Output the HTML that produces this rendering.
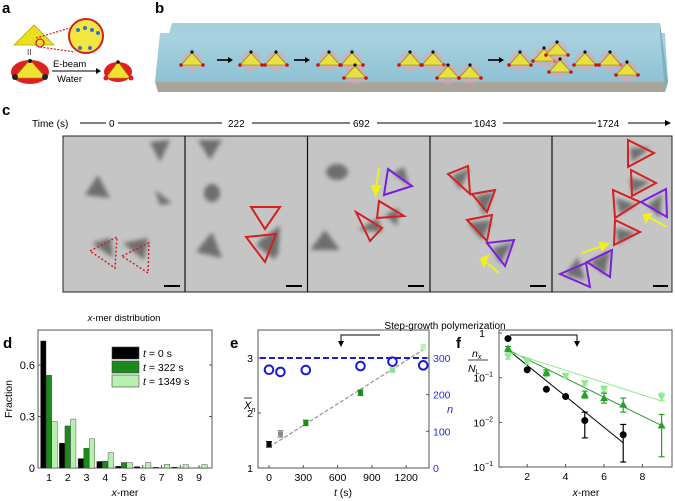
<!DOCTYPE html>
<html><head><meta charset="utf-8"><style>
html,body{margin:0;padding:0;background:#fff;}
svg{display:block;font-family:"Liberation Sans",sans-serif;}
</style></head><body>
<svg id="fig" width="675" height="501" viewBox="0 0 675 501" xmlns="http://www.w3.org/2000/svg">
<defs>
<linearGradient id="water" x1="0" y1="0" x2="0" y2="1"><stop offset="0" stop-color="#a9d3e0"/><stop offset="1" stop-color="#8ec2d4"/></linearGradient>
<filter id="blur" x="-30%" y="-30%" width="160%" height="160%"><feGaussianBlur stdDeviation="2.2"/></filter>
</defs>

<g font-weight="bold" font-size="15" fill="#000">
<text x="2" y="13">a</text>
<text x="155" y="13">b</text>
<text x="2" y="115">c</text>
<text x="3" y="348">d</text>
<text x="230" y="348">e</text>
<text x="456" y="348">f</text>
</g>

<g>
<polygon points="14,45 34,25 54,45" fill="#e8e020" stroke="#b8a800" stroke-width="0.8"/>
<line x1="36" y1="38" x2="70" y2="28" stroke="#d42020" stroke-width="1.2" stroke-dasharray="2,1.5"/>
<line x1="40" y1="47" x2="75" y2="52" stroke="#d42020" stroke-width="1.2" stroke-dasharray="2,1.5"/>
<circle cx="40" cy="43" r="4" fill="none" stroke="#d42020" stroke-width="1.3"/>
<circle cx="86" cy="36" r="17" fill="#f2e640" stroke="#d42020" stroke-width="2"/>
<g fill="#3a70c8"><circle cx="78" cy="30" r="2"/><circle cx="85" cy="28" r="2"/><circle cx="92" cy="30" r="2"/><circle cx="98" cy="33" r="2"/><circle cx="80" cy="48" r="2"/><circle cx="90" cy="48" r="2"/></g>
<text x="27" y="55" font-size="8" fill="#333">II</text>
<ellipse cx="30" cy="72" rx="19" ry="12" fill="#e02020"/>
<polygon points="14,78 30,60 46,78" fill="#f0e030" stroke="#a09000" stroke-width="0.6"/>
<circle cx="30" cy="61" r="2" fill="#111"/><circle cx="15" cy="77" r="3" fill="#222"/><circle cx="45" cy="77" r="3" fill="#222"/>
<text x="53" y="67" font-size="9.5">E-beam</text>
<text x="57" y="82" font-size="9.5">Water</text>
<line x1="52" y1="71" x2="96" y2="71" stroke="#000" stroke-width="1"/>
<polygon points="96,68 101,71 96,74" fill="#000"/>
<ellipse cx="118" cy="72" rx="14" ry="10" fill="#e02020"/>
<polygon points="106,78 118,62 130,78" fill="#f0e030" stroke="#a09000" stroke-width="0.6"/>
<circle cx="118" cy="62" r="1.8" fill="#111"/><circle cx="106" cy="78" r="2.5" fill="#e02020"/><circle cx="131" cy="78" r="2.5" fill="#e02020"/>
</g>

<g>
<polygon points="172,23 660,23 668,82 155,82" fill="#9ecadb" opacity="0.9"/>
<polygon points="160,33 665,33 668,82 155,82" fill="url(#water)"/>
<polygon points="155,82 668,82 665,92 158,92" fill="#a9a59a"/>
<polygon points="660,23 668,82 665,92 660,33" fill="#7fb0c0"/>
</g>
<g id="b-monomers"></g>

<g font-size="10">
<text x="32" y="127">Time (s)</text>
<line x1="80" y1="123" x2="106" y2="123" stroke="#000"/>
<text x="109" y="127">0</text>
<line x1="118" y1="123" x2="222" y2="123" stroke="#000"/>
<text x="228" y="127">222</text>
<line x1="252" y1="123" x2="350" y2="123" stroke="#000"/>
<text x="353" y="127">692</text>
<line x1="377" y1="123" x2="472" y2="123" stroke="#000"/>
<text x="474" y="127">1043</text>
<line x1="503" y1="123" x2="596" y2="123" stroke="#000"/>
<text x="597" y="127">1724</text>
<line x1="628" y1="123" x2="665" y2="123" stroke="#000"/>
<polygon points="665,120 671,123 665,126" fill="#000"/>
</g>
<g id="c-panels">
<rect x="63" y="136" width="609" height="156" fill="#c5c5c5" stroke="#222" stroke-width="1"/>
<g fill="#6e6e6e" filter="url(#blur)">
<polygon points="85,195 98,175 110,198"/><polygon points="150,142 170,140 160,162"/><polygon points="155,190 172,203 160,205"/>
<polygon points="92,243 111,238 113,258"/><polygon points="123,243 148,238 144,260"/>
<polygon points="198,140 222,140 210,160"/><ellipse cx="212" cy="193" rx="8" ry="9"/><polygon points="196,252 212,232 222,258"/>
<polygon points="256,245 280,225 275,260"/><polygon points="259,240 280,230 278,256"/>
<ellipse cx="337" cy="172" rx="11" ry="8"/><polygon points="310,250 325,230 340,250"/>
<polygon points="358,230 378,218 382,232"/><polygon points="385,215 399,208 397,226"/><polygon points="393,173 404,167 409,186"/>
<polygon points="452,176 470,168 460,190"/><polygon points="476,196 494,192 484,216"/><polygon points="468,223 492,220 482,240"/><polygon points="493,248 513,242 500,264"/>
<polygon points="630,148 650,148 632,162"/><polygon points="630,178 650,182 632,193"/><polygon points="616,198 636,205 620,214"/><polygon points="616,228 636,233 618,244"/><polygon points="648,205 662,194 660,218"/><polygon points="565,275 578,257 585,280"/><polygon points="590,262 610,250 605,275"/>
</g>
<g fill="none" stroke="#d42020" stroke-width="1.5" stroke-dasharray="2,2">
<polygon points="90,251 117,237 115,268"/><polygon points="122,256 149,243 148,273"/>
</g>
<g fill="none" stroke="#d42020" stroke-width="2">
<polygon points="251,207 280,207 265,229"/><polygon points="246,237 276,234 265,262"/>
<polygon points="356,212 370,241 382,228"/><polygon points="379,201 377,218 404,216"/>
<polygon points="448,174 468,166 470,194"/><polygon points="472,194 495,190 487,212"/><polygon points="467,220 492,215 487,241"/>
<polygon points="628,140 628,167 654,153"/><polygon points="631,170 632,196 656,183"/><polygon points="613,190 615,218 640,202"/><polygon points="615,220 614,245 640,232"/>
</g>
<g fill="none" stroke="#7a20d8" stroke-width="2">
<polygon points="388,169 384,195 412,186"/><polygon points="487,243 514,240 505,266"/><polygon points="641,202 666,189 667,217"/><polygon points="560,274 590,287 586,263"/><polygon points="587,262 612,250 610,277"/>
</g>
<g stroke="#f0f020" stroke-width="2" fill="#f0f020">
<line x1="379" y1="168" x2="376" y2="188"/><polygon points="372,186 380,186 376,195"/>
<line x1="499" y1="273" x2="486" y2="262"/><polygon points="484,266 488,256 481,259"/>
<line x1="667" y1="227" x2="650" y2="218"/><polygon points="651,214 646,222 644,215"/>
<line x1="582" y1="253" x2="602" y2="246"/><polygon points="600,243 608,244 602,250"/>
</g>
<g stroke="#000" stroke-width="2">
<line x1="164" y1="286" x2="180" y2="286"/><line x1="286" y1="286" x2="302" y2="286"/><line x1="408" y1="286" x2="424" y2="286"/><line x1="530" y1="286" x2="546" y2="286"/><line x1="653" y1="286" x2="668" y2="286"/>
</g>
<g stroke="#111" stroke-width="1.2">
<line x1="185" y1="136" x2="185" y2="292"/><line x1="307.5" y1="136" x2="307.5" y2="292"/><line x1="430" y1="136" x2="430" y2="292"/><line x1="552" y1="136" x2="552" y2="292"/>
</g>
</g>

<g>
<text x="445" y="329" font-size="10" text-anchor="middle">Step-growth polymerization</text>
<polyline points="341,343 341,335 380,335" fill="none" stroke="#000"/>
<polyline points="510,335 577,335 577,343" fill="none" stroke="#000"/>
<polygon points="338,341 344,341 341,347" fill="#000"/>
<polygon points="574,341 580,341 577,347" fill="#000"/>
</g>
<text x="124" y="321" font-size="9.5" text-anchor="middle"><tspan font-style="italic">x</tspan>-mer distribution</text>

<g id="chart-d"></g>
<g id="chart-e"></g>
<g id="chart-f"></g>
</svg>
<script>
const dCategories = [1,2,3,4,5,6,7,8,9];
const dT0 = [0.74,0.145,0.055,0.038,0.01,0.008,0.004,0.005,0];
const dT322 = [0.54,0.245,0.115,0.04,0.032,0,0,0,0];
const dT1349 = [0.27,0.285,0.17,0.09,0.032,0.032,0.022,0.02,0.02];
const dYTicks = [0,0.3,0.6];
const dLegend = ["t = 0 s","t = 322 s","t = 1349 s"];
const eTimes = [0,100,322,800,1080,1349];
const eXn = [1.43,1.62,1.82,2.37,2.78,3.2];
const eXnErr = [0.05,0.06,0.05,0.05,0.04,0.05];
const eN = [268,262,267,278,290,280];
const eXTicks = [0,300,600,900,1200];
const eYTicks = [1,2,3];
const eRTicks = [0,100,200,300];
const eFit = [1.38,3.15];
const eNRef = 300;
const fXTicks = [2,4,6,8];
const fBlackX = [1,2,3,4,5,7];
const fBlackY = [0.75,0.15,0.055,0.038,0.011,0.0053];
const fBlackLo = [null,null,null,null,0.0045,0.0013];
const fBlackHi = [null,null,null,null,0.017,0.009];
const fGreenX = [1,3,5,6,7,9];
const fGreenY = [0.45,0.13,0.042,0.035,0.025,0.0085];
const fGreenLo = [0.38,0.11,0.035,0.027,0.017,0.0017];
const fGreenHi = [0.5,0.15,0.05,0.045,0.035,0.015];
const fLightX = [1,2,3,4,5,6,9];
const fLightY = [0.3,0.23,0.12,0.11,0.075,0.055,0.037];
const fLightLo = [0.26,0.2,0.11,0.1,0.068,0.048,0.031];
const fLightHi = [0.34,0.27,0.14,0.125,0.085,0.065,0.045];
const fBlackFit = [[1,0.42],[7,0.0035]];
const fGreenFit = [[1,0.42],[9,0.0085]];
const fLightFit = [[1,0.38],[9,0.03]];

const NS="http://www.w3.org/2000/svg";
function mk(parent,tag,attrs,text){const e=document.createElementNS(NS,tag);for(const k in attrs)e.setAttribute(k,attrs[k]);if(text!==undefined)e.textContent=text;parent.appendChild(e);return e;}

(function(){
  const g=document.getElementById('b-monomers');
  const mons=[[192,63],[251,63],[276,63],[329,63],[352,63],[355,76],[410,63],[433,63],[448,76],[470,76],[520,63],[544,59],[557,53],[560,70],[585,63],[610,63],[627,73]];
  mons.forEach(m=>{
    const x=m[0],y=m[1];
    mk(g,'circle',{cx:x,cy:y-2,r:10,fill:'#e8a0a8',opacity:0.55});
    const t=mk(g,'polygon',{points:`${x-11},${y+2} ${x},${y-10} ${x+11},${y+2}`,fill:'#e8e040',stroke:'#8a8000','stroke-width':0.6});
    
    
    mk(g,'circle',{cx:x,cy:y-11,r:1.6,fill:'#111'});
    mk(g,'circle',{cx:x-11,cy:y+2,r:1.8,fill:'#d01010'});
    mk(g,'circle',{cx:x+11,cy:y+2,r:1.8,fill:'#d01010'});
  });
  [[217,60],[294,60],[488,60]].forEach(a=>{
    mk(g,'line',{x1:a[0],y1:a[1],x2:a[0]+12,y2:a[1],stroke:'#000','stroke-width':1.6});
    mk(g,'polygon',{points:`${a[0]+11},${a[1]-3} ${a[0]+16},${a[1]} ${a[0]+11},${a[1]+3}`,fill:'#000'});
  });
})();

(function(){
  const g=document.getElementById('chart-d');
  const L=38,R=212,T=330,B=468;
  const y=v=>B-v/0.3*51.5;
  const x=c=>49+(c-1)*18.75;
  const ax=mk(g,'rect',{x:L,y:T,width:R-L,height:B-T,fill:'none',stroke:'#555','stroke-width':1});
  
  dYTicks.forEach(t=>{
    mk(g,'line',{x1:L,y1:y(t),x2:L+3,y2:y(t),stroke:'#555'});
    mk(g,'line',{x1:R,y1:y(t),x2:R-3,y2:y(t),stroke:'#555'});
    const lb=mk(g,'text',{x:L-3,y:y(t)+4,'font-size':11,'text-anchor':'end'},String(t));
    
  });
  dCategories.forEach((c,i)=>{
    mk(g,'line',{x1:x(c),y1:B,x2:x(c),y2:B-3,stroke:'#555'});
    const lb=mk(g,'text',{x:x(c),y:B+13,'font-size':10.5,'text-anchor':'middle'},String(c));
    
    const series=[[dT0,'#000'],[dT322,'#1a8a1a'],[dT1349,'#b8f0b0']];
    series.forEach((s,j)=>{
      const v=s[0][i]; if(v<=0) return;
      const r=mk(g,'rect',{x:x(c)-8.4+j*5.6,y:y(v),width:5.4,height:B-y(v),fill:s[1],stroke:'#333','stroke-width':0.4});
      
    });
  });
  const xt=mk(g,'text',{x:125,y:496,'font-size':10.5,'text-anchor':'middle'});
  
  xt.innerHTML='<tspan font-style="italic">x</tspan>-mer';
  const yt=mk(g,'text',{x:0,y:0,'font-size':10.5,'text-anchor':'middle',transform:'translate(12,399) rotate(-90)'},'Fraction');
  
  const cols=['#000','#1a8a1a','#b8f0b0'];
  dLegend.forEach((l,i)=>{
    const r=mk(g,'rect',{x:112,y:347+i*14,width:27,height:12,fill:cols[i],stroke:'#444','stroke-width':0.6});
    
    const tx=mk(g,'text',{x:143,y:357+i*14,'font-size':10.5});
    
    const p=l.split(' = ');
    tx.innerHTML='<tspan font-style="italic">t</tspan> = '+p[1];
  });
})();

(function(){
  const g=document.getElementById('chart-e');
  const L=258,R=429,T=330,B=468;
  const x=t=>269+t/300*34.3;
  const y=v=>B-(v-1)*55;
  const yr=n=>B-n/300*110;
  const ax=mk(g,'rect',{x:L,y:T,width:R-L,height:B-T,fill:'none',stroke:'#555'});
  
  eXTicks.forEach(t=>{
    mk(g,'line',{x1:x(t),y1:B,x2:x(t),y2:B-3,stroke:'#555'});
    const lb=mk(g,'text',{x:x(t),y:B+13,'font-size':10.5,'text-anchor':'middle'},String(t));
    
  });
  eYTicks.forEach(t=>{
    mk(g,'line',{x1:L,y1:y(t),x2:L+3,y2:y(t),stroke:'#555'});
    const lb=mk(g,'text',{x:L-5,y:y(t)+4,'font-size':10.5,'text-anchor':'end'},String(t));
    
  });
  eRTicks.forEach(t=>{
    mk(g,'line',{x1:R,y1:yr(t),x2:R-3,y2:yr(t),stroke:'#555'});
    const lb=mk(g,'text',{x:R+4,y:yr(t)+4,'font-size':10.5,fill:'#2a2ae0'},String(t));
    
  });
  const fit=mk(g,'line',{x1:x(0),y1:y(eFit[0]),x2:x(1349),y2:y(eFit[1]),stroke:'#999','stroke-width':1.3,'stroke-dasharray':'4,2'});
  
  const ref=mk(g,'line',{x1:L+2,y1:yr(eNRef),x2:R-2,y2:yr(eNRef),stroke:'#1a1ad0','stroke-width':2,'stroke-dasharray':'6,3'});
  
  const cols=['#000','#888','#1a8a1a','#1a8a1a','#90e090','#b8f5b0'];
  eTimes.forEach((t,i)=>{
    const px=x(t);
    mk(g,'line',{x1:px,y1:y(eXn[i]-eXnErr[i]),x2:px,y2:y(eXn[i]+eXnErr[i]),stroke:cols[i],'stroke-width':1});
    mk(g,'line',{x1:px-3,y1:y(eXn[i]-eXnErr[i]),x2:px+3,y2:y(eXn[i]-eXnErr[i]),stroke:cols[i]});
    mk(g,'line',{x1:px-3,y1:y(eXn[i]+eXnErr[i]),x2:px+3,y2:y(eXn[i]+eXnErr[i]),stroke:cols[i]});
    const p=mk(g,'rect',{x:px-2.5,y:y(eXn[i])-2.5,width:5,height:5,fill:cols[i]});
    
    const c=mk(g,'circle',{cx:px,cy:yr(eN[i]),r:4.3,fill:'none',stroke:'#1a1ad0','stroke-width':2});
    
  });
  const xt=mk(g,'text',{x:343,y:496,'font-size':10.5,'text-anchor':'middle'});
  
  xt.innerHTML='<tspan font-style="italic">t</tspan> (s)';
  const yt=mk(g,'text',{x:244,y:409,'font-size':11,'font-style':'italic'});
  
  yt.innerHTML='X<tspan font-size="7" dy="3">n</tspan>';
  mk(g,'line',{x1:244,y1:398,x2:252,y2:398,stroke:'#000','stroke-width':0.8});
  const nt=mk(g,'text',{x:447,y:413,'font-size':11,'font-style':'italic',fill:'#2a2ae0'},'n');
  
})();

(function(){
  const g=document.getElementById('chart-f');
  const L=499,R=672,T=330,B=467;
  const x=v=>508+(v-1)*19.2;
  const y=v=>333-Math.log10(v)*44.7;
  const ax=mk(g,'rect',{x:L,y:T,width:R-L,height:B-T,fill:'none',stroke:'#555'});
  
  fXTicks.forEach(t=>{
    mk(g,'line',{x1:x(t),y1:B,x2:x(t),y2:B-3,stroke:'#555'});
    const lb=mk(g,'text',{x:x(t),y:B+13,'font-size':10.5,'text-anchor':'middle'},String(t));
    
  });
  [[1,'1',''],[0.1,'10','−1'],[0.01,'10','−2'],[0.001,'10','−1']].forEach(d=>{
    mk(g,'line',{x1:L,y1:y(d[0]),x2:L+3,y2:y(d[0]),stroke:'#555'});
    const lb=mk(g,'text',{x:L-14,y:y(d[0])+4,'font-size':10.5,'text-anchor':'end'},d[1]);
    
    if(d[2]) mk(g,'text',{x:L-14,y:y(d[0])-1,'font-size':7},d[2]);
  });
  const fits=[[fBlackFit,'#000'],[fGreenFit,'#2a9a2a'],[fLightFit,'#90e890']];
  fits.forEach(f=>{
    const l=mk(g,'line',{x1:x(f[0][0][0]),y1:y(f[0][0][1]),x2:x(f[0][1][0]),y2:y(f[0][1][1]),stroke:f[1],'stroke-width':1});
    
  });
  function err(px,lo,hi,col){
    if(lo==null) return;
    mk(g,'line',{x1:px,y1:y(lo),x2:px,y2:y(hi),stroke:col,'stroke-width':1.2});
    mk(g,'line',{x1:px-3,y1:y(lo),x2:px+3,y2:y(lo),stroke:col,'stroke-width':1.2});
    mk(g,'line',{x1:px-3,y1:y(hi),x2:px+3,y2:y(hi),stroke:col,'stroke-width':1.2});
  }
  fLightX.forEach((v,i)=>{
    const px=x(v),py=y(fLightY[i]);
    err(px,fLightLo[i],fLightHi[i],'#90e890');
    const p=mk(g,'polygon',{points:`${px-4},${py-3} ${px+4},${py-3} ${px},${py+4}`,fill:'#90e890'});
    
  });
  fGreenX.forEach((v,i)=>{
    const px=x(v),py=y(fGreenY[i]);
    err(px,fGreenLo[i],fGreenHi[i],'#2aa02a');
    const p=mk(g,'polygon',{points:`${px-4},${py+3} ${px+4},${py+3} ${px},${py-4}`,fill:'#2aa02a'});
    
  });
  fBlackX.forEach((v,i)=>{
    const px=x(v),py=y(fBlackY[i]);
    err(px,fBlackLo[i],fBlackHi[i],'#000');
    const p=mk(g,'circle',{cx:px,cy:py,r:3.5,fill:'#000'});
    
  });
  const xt=mk(g,'text',{x:586,y:496,'font-size':10.5,'text-anchor':'middle'});
  
  xt.innerHTML='<tspan font-style="italic">x</tspan>-mer';
  const yt=mk(g,'g',{});
  
  mk(yt,'text',{x:472,y:357,'font-size':10.5,'font-style':'italic'}).innerHTML='n<tspan font-size="7" dy="2">x</tspan>';
  mk(yt,'line',{x1:468,y1:360,x2:488,y2:360,stroke:'#000','stroke-width':0.8});
  mk(yt,'text',{x:468,y:372,'font-size':10.5,'font-style':'italic'}).innerHTML='N<tspan font-size="7" dy="2" font-style="normal">L</tspan>';
})();
</script>
</body></html>
